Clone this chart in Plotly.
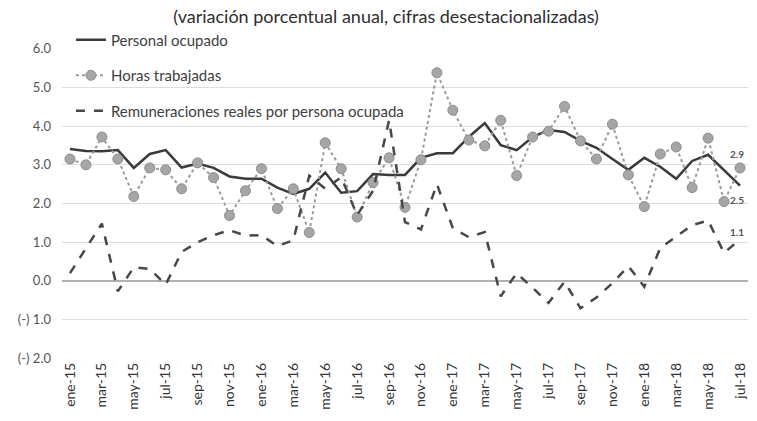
import plotly.graph_objects as go

# Meses ene-15 .. jul-18
meses_abrev = ["ene", "feb", "mar", "abr", "may", "jun",
               "jul", "ago", "sep", "oct", "nov", "dic"]
periodos = [f"{m}-{a}" for a in ("15", "16", "17", "18") for m in meses_abrev][:43]

personal_ocupado = [3.41, 3.36, 3.35, 3.38, 2.92, 3.28, 3.38, 2.93, 3.03, 2.92,
                    2.70, 2.64, 2.64, 2.41, 2.25, 2.38, 2.80, 2.28, 2.32, 2.76,
                    2.74, 2.74, 3.18, 3.30, 3.30, 3.72, 4.08, 3.51, 3.38, 3.72,
                    3.90, 3.85, 3.62, 3.44, 3.15, 2.87, 3.18, 2.95, 2.64, 3.10,
                    3.26, 2.87, 2.46]

horas_trabajadas = [3.15, 3.00, 3.72, 3.15, 2.18, 2.92, 2.87, 2.38, 3.05, 2.67,
                    1.69, 2.33, 2.90, 1.87, 2.38, 1.25, 3.57, 2.90, 1.65, 2.54,
                    3.18, 1.90, 3.13, 5.38, 4.41, 3.64, 3.49, 4.15, 2.72, 3.72,
                    3.87, 4.51, 3.62, 3.15, 4.05, 2.74, 1.92, 3.28, 3.46, 2.41,
                    3.69, 2.05, 2.92]

remuneraciones = [0.20, 0.85, 1.48, -0.27, 0.35, 0.31, -0.10, 0.75, 1.00, 1.18,
                  1.31, 1.17, 1.18, 0.90, 1.05, 2.72, 2.38, 2.68, 1.70, 2.33,
                  4.15, 1.52, 1.33, 2.50, 1.36, 1.13, 1.26, -0.40, 0.20, -0.18,
                  -0.57, -0.02, -0.71, -0.43, -0.06, 0.38, -0.15, 0.85, 1.15, 1.44,
                  1.56, 0.72, 1.08]

y_ticks = [-2, -1, 0, 1, 2, 3, 4, 5, 6]
y_ticktext = ["(-) 2.0", "(-) 1.0", "0.0", "1.0", "2.0", "3.0", "4.0", "5.0", "6.0"]

x = list(range(len(periodos)))

fig = go.Figure()

fig.add_trace(go.Scatter(
    x=x, y=personal_ocupado, mode="lines", name="Personal ocupado",
    legendgroup="a", line=dict(color="#3a3a3a", width=2.5)
))
fig.add_trace(go.Scatter(
    x=x, y=horas_trabajadas, mode="lines+markers", name="Horas trabajadas",
    legendgroup="b", line=dict(color="#9a9a9a", width=2, dash="dot"),
    marker=dict(size=10, color="#a6a6a6", line=dict(color="#8c8c8c", width=1))
))
fig.add_trace(go.Scatter(
    x=x, y=remuneraciones, mode="lines",
    name="Remuneraciones reales por persona ocupada",
    legendgroup="c", line=dict(color="#474747", width=2.5, dash="dash")
))

# etiquetas del último dato
ult = len(periodos) - 1
etiquetas = [(horas_trabajadas[ult], 14), (personal_ocupado[ult], -14), (remuneraciones[ult], 7)]
for val, dy in etiquetas:
    fig.add_annotation(
        x=ult, y=val, text=f"<b>{val:.1f}</b>", showarrow=False,
        yshift=dy, xshift=-3, font=dict(size=10, color="#555555")
    )

fig.update_layout(
    width=757, height=421,
    margin=dict(l=62, r=9, t=48, b=62, autoexpand=False),
    paper_bgcolor="white", plot_bgcolor="white",
    font=dict(family="Lato, Carlito, sans-serif", color="#404040"),
    title=dict(
        text="(variación porcentual anual, cifras desestacionalizadas)",
        x=0.51, xanchor="center", y=0.96, yanchor="middle",
        font=dict(size=18, color="#2e2e2e")
    ),
    legend=dict(
        x=0.013, y=0.944, xanchor="left", yanchor="top", yref="container",
        bgcolor="rgba(0,0,0,0)", font=dict(size=15, color="#404040"),
        tracegroupgap=13, itemwidth=30
    ),
    showlegend=True
)

fig.update_xaxes(
    range=[-0.5, 42.5], automargin=False,
    tickvals=x[::2], ticktext=periodos[::2], tickangle=-90,
    tickfont=dict(size=14, color="#333333"),
    showgrid=False, zeroline=False, showline=False, ticks=""
)
fig.update_yaxes(
    range=[-2.02, 6.02], automargin=False,
    tickvals=y_ticks, ticktext=y_ticktext, ticklabelstandoff=10,
    tickfont=dict(size=13, color="#555555"),
    showgrid=True, gridcolor="#dedede", gridwidth=1,
    zeroline=True, zerolinecolor="#b0b0b0", zerolinewidth=1.5,
    showline=False, ticks=""
)

# sin margen del body para que la figura ocupe la ventana exacta
fig.write_html("out.html", config={"displayModeBar": False},
               post_script="document.body.style.margin='0';")
